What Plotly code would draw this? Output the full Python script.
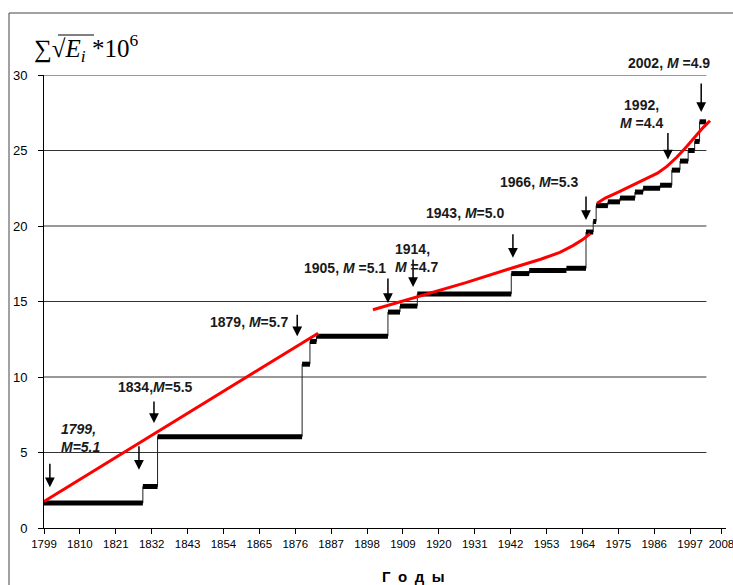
import plotly.graph_objects as go

# ---- data ----
step_years = [1799, 1829.3, 1833.8, 1878.1, 1880.5, 1882.5, 1904.4, 1908.1, 1913.4, 1942.2, 1947.7,
              1959.1, 1965.1, 1967.3, 1968.2, 1971.8, 1975.5, 1980.1, 1982.6, 1987.8, 1991.4,
              1993.9, 1996.4, 1998.4, 1999.9, 2001.9]
step_values = [1.65, 2.75, 6.05, 10.85, 12.35, 12.7, 14.3, 14.7, 15.5, 16.85, 17.05, 17.2,
               19.6, 20.3, 21.35, 21.6, 21.85, 22.25, 22.5, 22.7, 23.7, 24.3,
               25.0, 25.6, 26.9, 26.9]

fit1_years = [1799, 1883.0]
fit1_values = [1.75, 12.9]
fit2_years = [1899.8, 1913.4, 1928.3, 1942.2, 1951.2, 1957.1, 1961.1, 1964.1, 1966.4]
fit2_values = [14.45, 15.3, 16.25, 17.2, 17.8, 18.25, 18.7, 19.1, 19.5]
fit3_years = [1968.5, 1971.0, 1975.0, 1979.0, 1983.0, 1987.0, 1989.9, 1992.9, 1995.9, 1998.9,
              2000.9, 2003.1]
fit3_values = [21.5, 21.85, 22.25, 22.65, 23.05, 23.5, 23.95, 24.55, 25.25, 26.0, 26.5, 26.97]

x_tick_labels = ["1799", "1810", "1821", "1832", "1843", "1854", "1865", "1876", "1887", "1898",
                 "1909", "1920", "1931", "1942", "1953", "1964", "1975", "1986", "1997", "2008"]
x_tick_pos = [1799, 1810, 1821, 1832, 1843, 1854, 1865, 1876, 1887, 1898, 1909, 1920,
              1931, 1942, 1953, 1964, 1975, 1986, 1997, 2006.6]
y_ticks = [0, 5, 10, 15, 20, 25, 30]

# event arrows: tip (year, value) and length in px
arrow_years = [1800.8, 1828.1, 1832.7, 1876.6, 1904.4, 1912.1, 1942.7, 1965.1, 1990.2, 2000.4]
arrow_values = [2.7, 3.85, 6.95, 12.7, 14.9, 15.96, 17.9, 20.4, 24.4, 27.55]
arrow_lengths = [25, 25, 23, 23, 26, 29, 25, 25, 28, 30]

label_texts = ["<i>1799,<br>M=5.1</i>", "1834,<i>M</i>=5.5", "1879, <i>M</i>=5.7",
               "1905, <i>M</i> =5.1", "1914,<br><i>M</i> =4.7", "1943, <i>M</i>=5.0",
               "1966, <i>M</i>=5.3", "1992,<br><i>M</i> =4.4", "2002, <i>M</i> =4.9"]

# ---- layout helpers ----
PL, PR, PT, PB = 44, 726, 75, 528
W, H = 733, 585
X_RANGE = [1799, 2008.0]

def px(xp):
    return (xp - PL) / (PR - PL)

def py(yp):
    return (PB - yp) / (PB - PT)

label_px = [59, 155, 248.5, 344.5, 393, 465, 538.5, 641, 669]
label_py = [438, 387, 322, 268, 258, 213, 182, 114, 63]
label_anchor = ["left", "center", "center", "center", "left", "center", "center", "center", "center"]

# ---- figure ----
fig = go.Figure()

fig.add_trace(go.Scatter(x=step_years, y=step_values, mode="lines",
                         line=dict(color="#222", width=1, shape="hv"),
                         hoverinfo="skip", showlegend=False))
bx, by = [], []
for i in range(len(step_years) - 1):
    bx += [step_years[i], step_years[i + 1], None]
    by += [step_values[i], step_values[i], None]
fig.add_trace(go.Scatter(x=bx, y=by, mode="lines", line=dict(color="black", width=5),
                         hoverinfo="skip", showlegend=False))

for fx, fy in [(fit1_years, fit1_values), (fit2_years, fit2_values), (fit3_years, fit3_values)]:
    fig.add_trace(go.Scatter(x=fx, y=fy, mode="lines",
                             line=dict(color="#ff0000", width=3),
                             hoverinfo="skip", showlegend=False))

shapes = []
for v in y_ticks[1:]:
    shapes.append(dict(type="line", xref="x", yref="y", x0=1799, x1=2002.0, y0=v, y1=v,
                       line=dict(color="#333", width=1), layer="below"))
shapes.append(dict(type="rect", xref="paper", yref="paper", x0=px(9), x1=1.5, y0=-0.5, y1=py(13),
                   line=dict(color="#444", width=1), layer="below"))
# overline of the square root
shapes.append(dict(type="line", xref="paper", yref="paper", x0=px(58), x1=px(94), y0=py(35), y1=py(35),
                   line=dict(color="black", width=1)))

annotations = []
for ax_, ay_, ln in zip(arrow_years, arrow_values, arrow_lengths):
    annotations.append(dict(x=ax_, y=ay_, xref="x", yref="y", text="", showarrow=True,
                            ax=0, ay=-ln, arrowhead=2, arrowsize=1.3, arrowwidth=1.5,
                            arrowcolor="black"))
for t, lx, ly, anc in zip(label_texts, label_px, label_py, label_anchor):
    annotations.append(dict(x=px(lx), y=py(ly), xref="paper", yref="paper", text="<b>" + t + "</b>",
                            showarrow=False, xanchor=anc, yanchor="middle",
                            align="left" if anc == "left" else "center",
                            font=dict(family="Liberation Sans, Arial", size=14, color="#1a1a1a")))
annotations.append(dict(x=px(32), y=py(48), xref="paper", yref="paper", xanchor="left", yanchor="middle",
                        text="∑√<i>E<sub>i</sub></i> *10<sup>6</sup>", showarrow=False,
                        font=dict(family="Liberation Serif, Times New Roman", size=25, color="black")))
annotations.append(dict(x=px(413), y=py(576), xref="paper", yref="paper", xanchor="center", yanchor="middle",
                        text="<b>Г\u2002о\u2002д\u2002ы</b>", showarrow=False,
                        font=dict(family="Liberation Sans, Arial", size=15, color="black")))

fig.update_layout(
    width=W, height=H, autosize=False,
    margin=dict(l=PL, r=W - PR, t=PT, b=H - PB, pad=0, autoexpand=False),
    plot_bgcolor="white", paper_bgcolor="white",
    shapes=shapes, annotations=annotations, showlegend=False,
    xaxis=dict(range=X_RANGE, tickvals=x_tick_pos, ticktext=x_tick_labels, automargin=False,
               showgrid=False, zeroline=False, showline=True, linecolor="black", linewidth=1,
               ticks="outside", ticklen=5, tickcolor="black", ticklabeloverflow="allow",
               tickfont=dict(family="Liberation Sans, Arial", size=11.5, color="black")),
    yaxis=dict(range=[0, 30], tickvals=y_ticks, showgrid=False, zeroline=False, showline=True,
               linecolor="black", linewidth=1, ticks="outside", ticklen=5, tickcolor="black",
               ticklabelstandoff=8, automargin=False,
               tickfont=dict(family="Liberation Sans, Arial", size=13, color="black")),
)

fig.write_html("out.html")
